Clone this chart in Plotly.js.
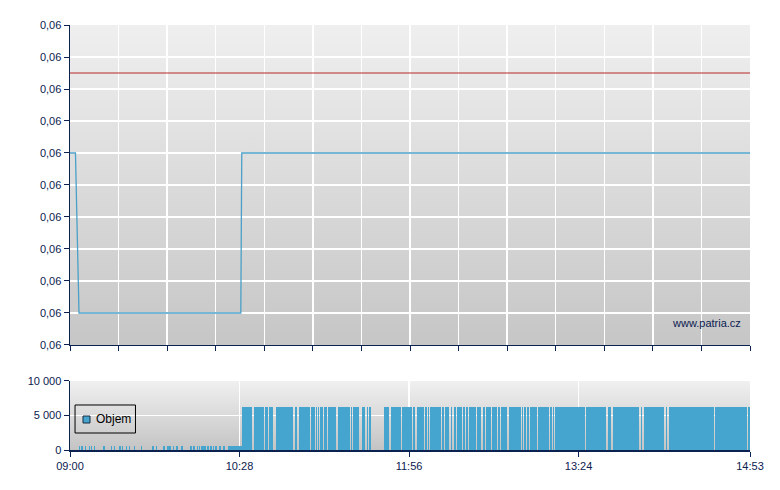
<!DOCTYPE html>
<html><head><meta charset="utf-8">
<script src="https://cdn.plot.ly/plotly-3.0.1.min.js"></script>
<style>html,body{margin:0;padding:0;background:#fff}#c{width:780px;height:490px}</style>
</head><body><div id="c"></div>
<script>
// ---- data ----
// price path (time, price)
const priceTimes = ['09:00:00','09:02:50','09:04:40','10:28:40','10:29:10','14:53:00'];
const prices     = [0.0602, 0.0602, 0.0597, 0.0597, 0.0602, 0.0602];
// reference price (red line)
const refPrice = 0.06045;
// volume runs in minutes after 09:00 [start, end]
const smallRuns = [[4.7,5.2],[5.9,6.7],[8.0,8.5],[9.7,10.2],[11.1,11.6],[12.5,13.0],[17.1,18.0],[21.5,22.0],[22.7,23.2],[25.5,26.3],[27.2,27.7],[29.2,29.8],[30.6,31.2],[33.0,33.5],[36.8,37.4],[42.7,43.4],[44.8,45.3],[48.3,49.2],[50.2,51.2],[51.6,52.6],[53.5,54.0],[55.2,56.0],[57.5,58.4],[62.3,63.2],[64.0,64.8],[65.7,66.5],[67.0,67.6],[68.2,69.3],[69.8,70.5],[71.0,72.4],[72.9,73.6],[74.0,74.8],[75.4,76.2],[77.6,78.6],[79.3,80.3],[82.0,89.3]];
const smallVolume = 620;
const bigRuns = [[89.3,94.7],[95.3,100.7],[101.4,102.8],[103.5,105.5],[106.8,115.9],[116.8,117.7],[118.9,124.6],[125.3,127.0],[127.6,128.2],[128.7,129.1],[129.6,131.2],[131.7,133.6],[134.1,138.2],[139.3,145.4],[145.9,146.6],[147.1,150.2],[151.6,153.3],[154.0,154.5],[155.4,156.1],[163.0,165.5],[166.8,171.7],[172.2,177.3],[178.1,179.3],[180.0,183.8],[184.5,185.2],[185.9,186.5],[187.0,192.6],[193.3,194.2],[194.8,196.9],[197.8,198.3],[199.2,200.4],[201.1,203.5],[204.2,204.9],[205.6,206.6],[207.1,210.9],[211.4,213.5],[214.3,215.3],[215.8,218.6],[219.1,221.8],[222.4,223.1],[223.8,227.0],[227.8,234.0],[234.5,235.2],[235.8,236.7],[237.4,238.3],[238.8,242.4],[243.1,248.5],[249.2,250.2],[250.7,251.3],[251.8,267.2],[268.0,278.4],[279.4,280.9],[281.7,295.5],[296.3,297.1],[297.8,308.5],[309.3,310.1],[310.8,334.5],[334.8,351.5],[352.1,353.0]];
const bigVolume = 6250;
const volTickLabels = ['09:00','10:28','11:56','13:24','14:53'];
const sessionStart = '09:00', sessionEnd = '14:53';
const volumeName = 'Objem';

// ---- helpers ----
const DAY = '2024-01-01 ';
const base = Date.UTC(2024,0,1,9,0,0);
function tm(m){ return new Date(base + m*60000).toISOString().replace('T',' ').slice(0,23); }
function hm(s){ const p=s.split(':'); return (+p[0]-9)*60 + (+p[1]); }

const runs = smallRuns.map(r=>[r[0],r[1],smallVolume]).concat(bigRuns.map(r=>[r[0],r[1],bigVolume]));
const barX = runs.map(r=>tm((r[0]+r[1])/2));
const barW = runs.map(r=>(r[1]-r[0])*60000);
const barY = runs.map(r=>r[2]);

const tStart = hm(sessionStart), tEnd = hm(sessionEnd);
const topTicks = []; for(let i=0;i<=14;i++) topTicks.push(tm(tStart + i*(tEnd-tStart)/14));
const volTicks = volTickLabels.map(s=>tm(hm(s)));

const navy = '#0b2150';
const barColor = '#45a5ce';
const font = {family:'"Liberation Sans", Arial, sans-serif', size:11, color:navy};

function grad(top,bottom){
  const svg = "<svg xmlns='http://www.w3.org/2000/svg' width='10' height='100' preserveAspectRatio='none'><defs><linearGradient id='g' x1='0' y1='0' x2='0' y2='1'><stop offset='0' stop-color='"+top+"'/><stop offset='1' stop-color='"+bottom+"'/></linearGradient></defs><rect width='10' height='100' fill='url(#g)'/></svg>";
  return 'data:image/svg+xml;charset=utf-8,' + encodeURIComponent(svg);
}

const traces = [
  {x:[tm(tStart), tm(tEnd)], y:[refPrice, refPrice], type:'scatter', mode:'lines',
   line:{color:'#b82828', width:1.1}, showlegend:false, hoverinfo:'skip', xaxis:'x', yaxis:'y'},
  {x:priceTimes.map(s=>DAY+s), y:prices, type:'scatter', mode:'lines',
   line:{color:'#4aa0c8', width:1.3}, showlegend:false, xaxis:'x', yaxis:'y'},
  {x:barX, y:barY, width:barW, type:'bar', name:volumeName, showlegend:false,
   marker:{color:barColor, line:{width:0}}, xaxis:'x2', yaxis:'y2'}
];

const D1 = [0.2471, 1], D2 = [0, 0.1624];
const layout = {
  width:780, height:490,
  margin:{l:70, r:30, t:25, b:40},
  paper_bgcolor:'#ffffff', plot_bgcolor:'rgba(0,0,0,0)',
  separators:', ',
  font:font,
  showlegend:false,
  xaxis:{type:'date', range:[tm(tStart), tm(tEnd)], domain:[0,1], anchor:'y',
    tickmode:'array', tickvals:topTicks, showticklabels:false,
    ticks:'outside', ticklen:5, tickcolor:navy, tickwidth:1,
    showgrid:true, gridcolor:'#ffffff', gridwidth:1.3,
    showline:true, linecolor:navy, linewidth:1.5, zeroline:false},
  yaxis:{domain:D1, range:[0.0596, 0.0606], anchor:'x',
    tickmode:'linear', tick0:0.0596, dtick:0.0001, tickformat:'.2f',
    ticks:'outside', ticklen:5, tickcolor:navy, tickwidth:1,
    showgrid:true, gridcolor:'#ffffff', gridwidth:1.3,
    showline:true, linecolor:navy, linewidth:1.5, zeroline:false, tickfont:font},
  xaxis2:{type:'date', range:[tm(tStart), tm(tEnd)], domain:[0,1], anchor:'y2',
    tickmode:'array', tickvals:volTicks, ticktext:volTickLabels,
    ticks:'outside', ticklen:5, tickcolor:navy, tickwidth:1,
    showgrid:true, gridcolor:'#ffffff', gridwidth:1.3,
    showline:true, linecolor:navy, linewidth:1.5, zeroline:false, tickfont:font},
  yaxis2:{domain:D2, range:[0, 10000], anchor:'x2',
    tickmode:'array', tickvals:[0,5000,10000], ticktext:['0','5 000','10 000'],
    ticks:'outside', ticklen:5, tickcolor:navy, tickwidth:1,
    showgrid:true, gridcolor:'#ffffff', gridwidth:1.3,
    showline:true, linecolor:navy, linewidth:1.5, zeroline:false, tickfont:font},
  bargap:0,
  images:[
    {source:grad('#efefef','#c6c6c6'), xref:'paper', yref:'paper', x:0, y:D1[1], sizex:1, sizey:D1[1]-D1[0],
     xanchor:'left', yanchor:'top', sizing:'stretch', layer:'below'},
    {source:grad('#f0f0f0','#c4c4c4'), xref:'paper', yref:'paper', x:0, y:D2[1], sizex:1, sizey:D2[1]-D2[0],
     xanchor:'left', yanchor:'top', sizing:'stretch', layer:'below'}
  ],
  shapes:[
    // legend frame
    {type:'rect', xref:'paper', yref:'paper', x0:0.0074, x1:0.0963, y0:0.040, y1:0.1059,
     line:{color:'#000000', width:1}, fillcolor:'rgba(0,0,0,0)', layer:'above'},
    // legend swatch
    {type:'rect', xref:'paper', yref:'paper', x0:0.0191, x1:0.0294, y0:0.0635, y1:0.0800,
     line:{color:'#1a2a40', width:1}, fillcolor:barColor, layer:'above'}
  ],
  annotations:[
    {text:'www.patria.cz', xref:'paper', yref:'paper', x:0.9897, y:0.2988, xanchor:'right', yanchor:'middle',
     showarrow:false, font:font},
    {text:volumeName, xref:'paper', yref:'paper', x:0.0353, y:0.0718, xanchor:'left', yanchor:'middle',
     showarrow:false, font:{family:'"Liberation Sans", Arial, sans-serif', size:12, color:'#000000'}}
  ]
};

Plotly.newPlot('c', traces, layout, {displayModeBar:false, staticPlot:true});
</script>
</body></html>
